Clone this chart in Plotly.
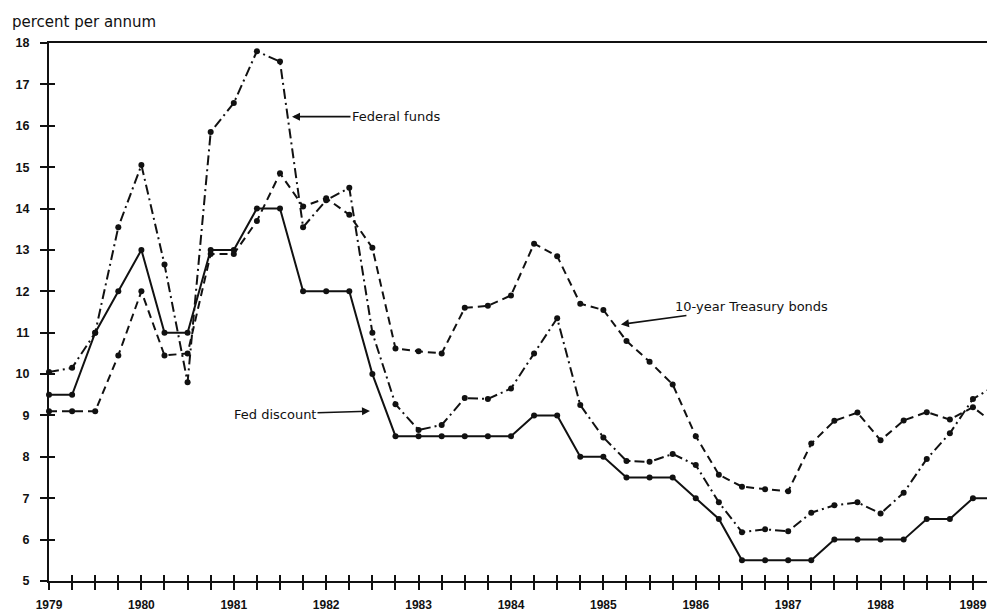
import plotly.graph_objects as go

# Quarterly observations, 1979 Q1 .. 1989 Q2
quarters = [1979 + i / 4 for i in range(42)]

federal_funds = [10.05, 10.15, 11.0, 13.55, 15.05, 12.65, 9.8, 15.85, 16.55, 17.8,
                 17.55, 13.55, 14.2, 14.5, 11.0, 9.27, 8.65, 8.77, 9.42, 9.4,
                 9.65, 10.5, 11.35, 9.25, 8.47, 7.9, 7.88, 8.07, 7.8, 6.9,
                 6.18, 6.25, 6.2, 6.65, 6.83, 6.9, 6.63, 7.13, 7.95, 8.57,
                 9.4, 9.73]

treasury_10y = [9.1, 9.1, 9.1, 10.45, 12.0, 10.45, 10.5, 12.9, 12.9, 13.7,
                14.85, 14.05, 14.25, 13.85, 13.05, 10.62, 10.55, 10.5, 11.6, 11.65,
                11.9, 13.15, 12.85, 11.7, 11.55, 10.8, 10.3, 9.75, 8.5, 7.57,
                7.28, 7.22, 7.17, 8.32, 8.87, 9.07, 8.4, 8.88, 9.08, 8.9,
                9.2, 8.77]

fed_discount = [9.5, 9.5, 11.0, 12.0, 13.0, 11.0, 11.0, 13.0, 13.0, 14.0,
                14.0, 12.0, 12.0, 12.0, 10.0, 8.5, 8.5, 8.5, 8.5, 8.5,
                8.5, 9.0, 9.0, 8.0, 8.0, 7.5, 7.5, 7.5, 7.0, 6.5,
                5.5, 5.5, 5.5, 5.5, 6.0, 6.0, 6.0, 6.0, 6.5, 6.5,
                7.0, 7.0]

x_tick_vals = [1979 + i / 4 for i in range(41)]
x_tick_text = [str(int(v)) if v == int(v) else "" for v in x_tick_vals]
y_tick_vals = list(range(5, 19))

BLACK = "#111111"
FONT = "DejaVu Sans"

fig = go.Figure()

def add_series(y, dash, name):
    fig.add_trace(go.Scatter(
        x=quarters, y=y, mode="lines+markers", name=name,
        line=dict(color=BLACK, width=2, dash=dash),
        marker=dict(color=BLACK, size=6, symbol="circle"),
        cliponaxis=False, showlegend=False, hoverinfo="skip",
    ))

add_series(treasury_10y, "8px,5px", "10-year Treasury bonds")
add_series(federal_funds, "10px,4px,2px,4px", "Federal funds")
add_series(fed_discount, "solid", "Fed discount")

# transparent copy on the overlay axes so their inward ticks are drawn
fig.add_trace(go.Scatter(x=quarters, y=fed_discount, xaxis="x2", yaxis="y2",
                         mode="lines", opacity=0, showlegend=False, hoverinfo="skip"))

x_range = [1979, 1989.152]
y_range = [5, 18]

x_tick_font = dict(family="Liberation Sans", size=12, color=BLACK, weight="bold")
y_tick_font = dict(family="Liberation Sans", size=12.5, color=BLACK, weight="bold")

fig.update_layout(
    width=987, height=614,
    margin=dict(l=49, r=0, t=43, b=33, autoexpand=False),
    paper_bgcolor="white", plot_bgcolor="white",
    font=dict(family=FONT, color=BLACK),
    xaxis=dict(range=x_range, tickmode="array", tickvals=x_tick_vals, ticktext=x_tick_text,
               ticks="outside", ticklen=7, tickwidth=2, tickcolor=BLACK,
               showline=True, linecolor=BLACK, linewidth=2, mirror=True,
               showgrid=False, zeroline=False, tickfont=x_tick_font, tickangle=0,
               automargin=False, ticklabelstandoff=5),
    yaxis=dict(range=y_range, tickmode="array", tickvals=y_tick_vals,
               ticks="outside", ticklen=7, tickwidth=2, tickcolor=BLACK,
               showline=True, linecolor=BLACK, linewidth=2,
               showgrid=False, zeroline=False, tickfont=y_tick_font,
               ticklabelstandoff=8, automargin=False),
    xaxis2=dict(range=x_range, overlaying="x", anchor="y2", side="bottom", tickmode="array",
                tickvals=x_tick_vals, ticks="inside", ticklen=6, tickwidth=2,
                tickcolor=BLACK, showticklabels=False, showline=False,
                showgrid=False, zeroline=False, automargin=False),
    yaxis2=dict(range=y_range, overlaying="y", anchor="x2", side="left", tickmode="array",
                tickvals=y_tick_vals, ticks="inside", ticklen=6, tickwidth=2,
                tickcolor=BLACK, showticklabels=False, showline=False,
                showgrid=False, zeroline=False, automargin=False),
)

label_font = dict(family=FONT, size=13, color=BLACK)

fig.add_annotation(text="percent per annum", xref="paper", yref="paper",
                   x=-0.0416, y=1.039, xanchor="left", yanchor="middle",
                   showarrow=False, font=dict(family=FONT, size=15, color=BLACK))

fig.add_annotation(text="Federal funds", x=1981.63, y=16.22, ax=104, ay=0,
                   showarrow=True, arrowhead=2, arrowsize=1, arrowwidth=1.6,
                   arrowcolor=BLACK, font=label_font)
fig.add_annotation(text="10-year Treasury bonds", x=1985.19, y=11.2, ax=131, ay=-18,
                   showarrow=True, arrowhead=2, arrowsize=1, arrowwidth=1.6,
                   arrowcolor=BLACK, font=label_font)
fig.add_annotation(text="Fed discount", x=1982.474, y=9.105, ax=-95, ay=3,
                   showarrow=True, arrowhead=2, arrowsize=1, arrowwidth=1.6,
                   arrowcolor=BLACK, font=label_font)

fig.write_html("out.html", config={"displayModeBar": False},
               post_script="document.body.style.margin='0';document.body.style.overflow='hidden';")
